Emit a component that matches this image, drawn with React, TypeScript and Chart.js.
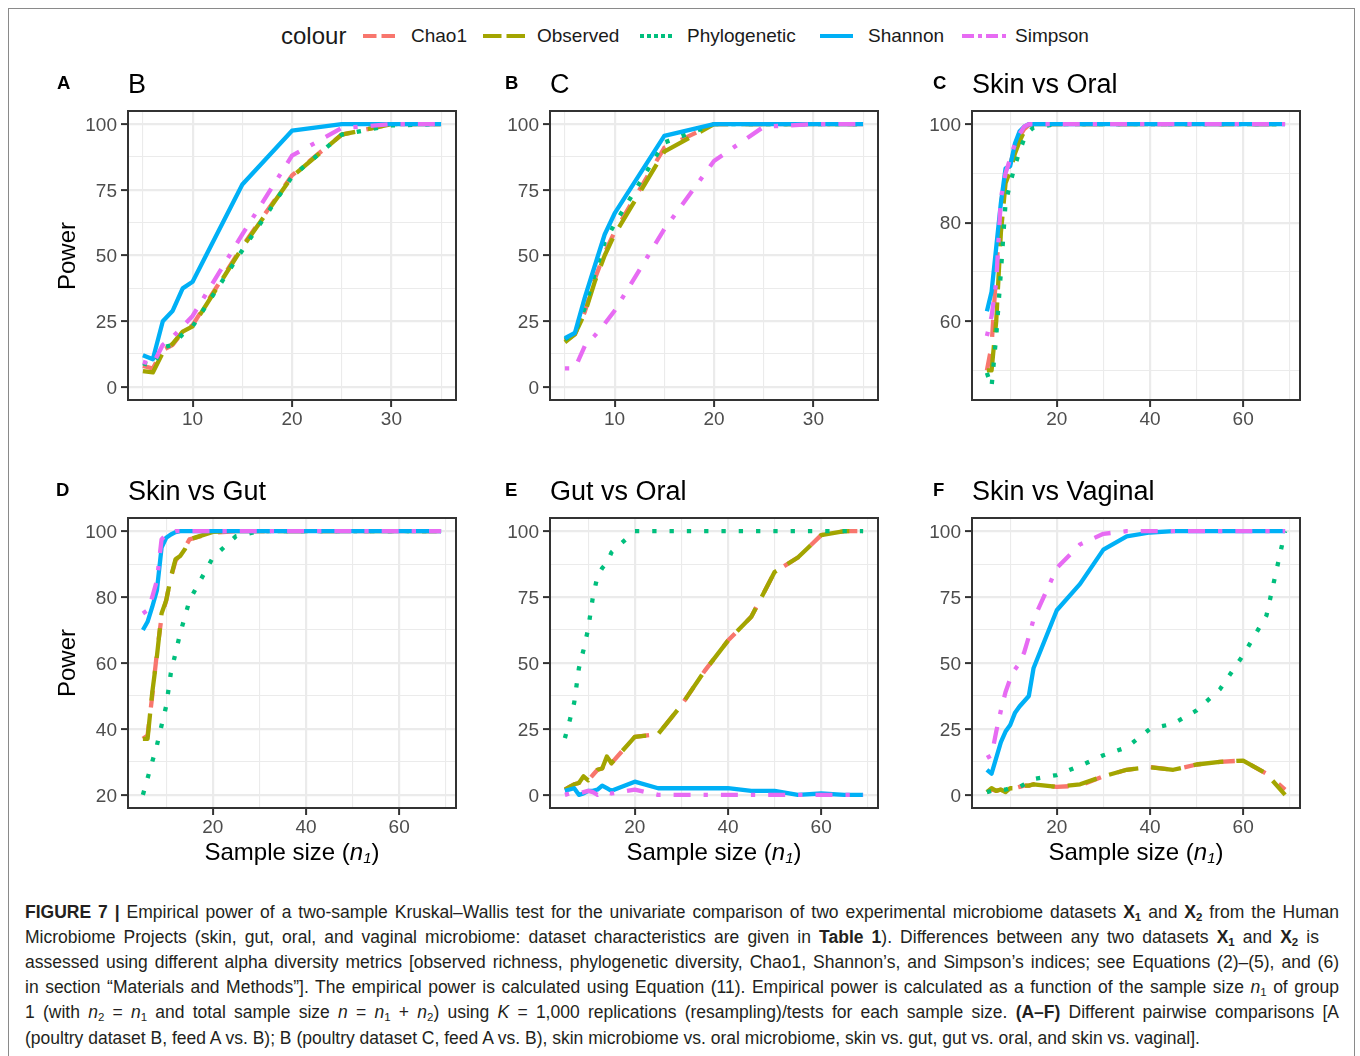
import React, { useEffect, useRef } from "react";
import { Chart, registerables } from "chart.js";

Chart.register(...registerables);

const FONT = "'Liberation Sans', Arial, Helvetica, sans-serif";

// ---------- series definitions ----------
const SERIES_NAMES = ["Chao1", "Observed", "Phylogenetic", "Shannon", "Simpson"];
const SERIES_COLORS = ["#F8766D", "#A3A500", "#00BF7D", "#00B0F6", "#E76BF3"];
const SERIES_DASHES = [[17, 17], [30, 13], [4.3, 13], [], [4.3, 13, 17, 13]];
const LEGEND_DASHES = ["13.5 5", "18.5 5", "4 3", "", "12 4 4 4"];

// ---------- x grids (sample size n1) ----------
const X_AB = [5, 6, 7, 8, 9, 10, 15, 20, 25, 30, 35];
const X_CF = [5, 6, 7, 8, 9, 10, 11, 12, 13, 14, 15, 20, 25, 30, 35, 40, 45, 50, 55, 60, 65, 69];

// ---------- Panel A : B ----------
const A_CHAO1 = [8, 7, 14, 16, 21, 23.5, 53.5, 80.5, 96, 100, 100];
const A_OBSERVED = [6, 5.5, 13, 16.5, 21, 23, 53, 80, 96, 100, 100];
const A_PHYLO = [9, 8, 15, 16, 20, 23, 52, 80, 96, 99.5, 100];
const A_SHANNON = [12, 10.5, 25, 29, 37.5, 40, 77, 97.5, 100, 100, 100];
const A_SIMPSON = [9.5, 8.5, 16, 19, 23, 27, 58, 88, 98.5, 100, 100];

// ---------- Panel B : C ----------
const B_CHAO1 = [17.5, 20, 28.5, 41, 51, 59, 91, 100, 100, 100, 100];
const B_OBSERVED = [17, 20, 28, 40, 50, 58, 89.5, 100, 100, 100, 100];
const B_PHYLO = [18, 20.5, 30, 43, 55, 62, 93, 100, 100, 100, 100];
const B_SHANNON = [18.5, 20.5, 34, 46, 58, 66, 95.5, 100, 100, 100, 100];
const B_SIMPSON = [7, 7, 15.5, 19.5, 24, 29, 60, 86, 99, 100, 100];

// ---------- Panel C : Skin vs Oral ----------
const C_CHAO1 = [50, 55, 70, 84, 89, 92, 95, 97.5, 99, 99.8, 100, 100, 100, 100, 100, 100, 100, 100, 100, 100, 100, 100];
const C_OBSERVED = [50, 50, 60, 78, 88, 90.5, 94, 96.5, 98.5, 99.5, 100, 100, 100, 100, 100, 100, 100, 100, 100, 100, 100, 100];
const C_PHYLO = [49.5, 46.7, 57, 70, 84, 88, 91.5, 94.5, 97, 98.5, 99.3, 100, 100, 100, 100, 100, 100, 100, 100, 100, 100, 100];
const C_SHANNON = [62, 66, 75, 84, 91, 91.5, 96, 98.5, 99.5, 100, 100, 100, 100, 100, 100, 100, 100, 100, 100, 100, 100, 100];
const C_SIMPSON = [57, 61, 68, 85, 90, 93, 96, 98, 99.5, 100, 100, 100, 100, 100, 100, 100, 100, 100, 100, 100, 100, 100];

// ---------- Panel D : Skin vs Gut ----------
const D_CHAO1 = [37, 38, 50, 63, 74, 79, 86, 91, 93, 95, 97.5, 99.5, 100, 100, 100, 100, 100, 100, 100, 100, 100, 100];
const D_OBSERVED = [37, 37, 51, 62, 75, 79, 86, 91.5, 92.5, 94.5, 97.5, 99.8, 100, 100, 100, 100, 100, 100, 100, 100, 100, 100];
const D_PHYLO = [20, 25, 30, 35, 41, 47, 57, 63, 69, 74, 79, 92, 98.5, 100, 100, 100, 100, 100, 100, 100, 100, 100];
const D_SHANNON = [70, 72.5, 77, 82, 95, 98, 99, 99.7, 100, 100, 100, 100, 100, 100, 100, 100, 100, 100, 100, 100, 100, 100];
const D_SIMPSON = [75, 76, 80, 85, 97.5, 99, 99.5, 100, 100, 100, 100, 100, 100, 100, 100, 100, 100, 100, 100, 100, 100, 100];

// ---------- Panel E : Gut vs Oral ----------
const E_CHAO1 = [2, 3, 4, 4.5, 7, 5.5, 7.5, 9.5, 10, 14.5, 12, 22, 23, 34, 47, 58.5, 67.5, 84.5, 90, 98.5, 100, 100];
const E_OBSERVED = [2, 3, 4, 4.5, 7, 5.5, 7.5, 9.5, 10, 14.5, 12, 22, 23, 34, 47, 58.5, 67.5, 84.5, 90, 98.5, 100, 100];
const E_PHYLO = [21.5, 28, 35, 48, 55, 63, 75, 83, 86, 88, 92, 100, 100, 100, 100, 100, 100, 100, 100, 100, 100, 100];
const E_SHANNON = [1.5, 2, 2.5, 0, 0.5, 1.5, 1.5, 2, 3.5, 2.5, 1.5, 5, 2.5, 2.5, 2.5, 2.5, 1.5, 1.5, 0, 0.5, 0, 0];
const E_SIMPSON = [0, 0.5, 0.5, 0.5, 1, 1.5, 1, 0, 1, 1, 0.5, 2, 0, 0, 0, 0, 0, 0, 0, 0, 0, 0];

// ---------- Panel F : Skin vs Vaginal ----------
const F_CHAO1 = [1, 2, 1.5, 2, 1, 2, 2.5, 3, 3.5, 3.5, 4, 3, 3.5, 7, 9.5, 10.5, 9.5, 11.5, 12.5, 13, 8, 2];
const F_OBSERVED = [1, 2.5, 1.5, 2, 1, 2.5, 2.5, 3, 3.5, 3.5, 4, 3, 4, 7, 9.5, 10.5, 9.5, 11.5, 12.5, 13, 8, 0];
const F_PHYLO = [1, 1.5, 2, 2, 2, 2.5, 2.5, 3, 4, 5, 6, 7.5, 11, 15, 18, 25, 27, 32, 40, 53, 68, 100];
const F_SHANNON = [9.5, 8, 14, 20, 24, 26.5, 31, 33.5, 35.5, 37.5, 48, 70, 80, 93, 98, 99.5, 100, 100, 100, 100, 100, 100];
const F_SIMPSON = [14, 15, 24, 32, 39, 44, 47.5, 50, 54, 60, 66.5, 86, 95, 99, 100, 100, 100, 100, 100, 100, 100, 100];

// ---------- tick labels ----------
const X_MAJOR_AB = [10, 20, 30];
const X_MINOR_AB = [5, 15, 25, 35];
const X_MAJOR_CF = [20, 40, 60];
const X_MINOR_CF = [10, 30, 50, 70];
const Y_MAJOR_PCT = [0, 25, 50, 75, 100];
const Y_MINOR_PCT = [12.5, 37.5, 62.5, 87.5];
const Y_MAJOR_C = [60, 80, 100];
const Y_MINOR_C = [50, 70, 90];
const Y_MAJOR_D = [20, 40, 60, 80, 100];
const Y_MINOR_D = [30, 50, 70, 90];

type PanelSpec = {
  tag: string;
  title: string;
  x: number[];
  ys: number[][];
  xRange: [number, number];
  xMajor: number[];
  xMinor: number[];
  yRange: [number, number];
  yMajor: number[];
  yMinor: number[];
  box: [number, number, number, number];
  tagX: number;
  yTitle: boolean;
  xTitle: boolean;
};

const PANELS: PanelSpec[] = [
  { tag: "A", title: "B", x: X_AB, ys: [A_CHAO1, A_OBSERVED, A_PHYLO, A_SHANNON, A_SIMPSON], xRange: [3.5, 36.5], xMajor: X_MAJOR_AB, xMinor: X_MINOR_AB, yRange: [-5, 105], yMajor: Y_MAJOR_PCT, yMinor: Y_MINOR_PCT, box: [128, 111, 456, 400], tagX: 57, yTitle: true, xTitle: false },
  { tag: "B", title: "C", x: X_AB, ys: [B_CHAO1, B_OBSERVED, B_PHYLO, B_SHANNON, B_SIMPSON], xRange: [3.5, 36.5], xMajor: X_MAJOR_AB, xMinor: X_MINOR_AB, yRange: [-5, 105], yMajor: Y_MAJOR_PCT, yMinor: Y_MINOR_PCT, box: [550, 111, 878, 400], tagX: 505, yTitle: false, xTitle: false },
  { tag: "C", title: "Skin vs Oral", x: X_CF, ys: [C_CHAO1, C_OBSERVED, C_PHYLO, C_SHANNON, C_SIMPSON], xRange: [1.8, 72.2], xMajor: X_MAJOR_CF, xMinor: X_MINOR_CF, yRange: [44, 102.67], yMajor: Y_MAJOR_C, yMinor: Y_MINOR_C, box: [972, 111, 1300, 400], tagX: 933, yTitle: false, xTitle: false },
  { tag: "D", title: "Skin vs Gut", x: X_CF, ys: [D_CHAO1, D_OBSERVED, D_PHYLO, D_SHANNON, D_SIMPSON], xRange: [1.8, 72.2], xMajor: X_MAJOR_CF, xMinor: X_MINOR_CF, yRange: [16, 104], yMajor: Y_MAJOR_D, yMinor: Y_MINOR_D, box: [128, 518, 456, 808], tagX: 56, yTitle: true, xTitle: true },
  { tag: "E", title: "Gut vs Oral", x: X_CF, ys: [E_CHAO1, E_OBSERVED, E_PHYLO, E_SHANNON, E_SIMPSON], xRange: [1.8, 72.2], xMajor: X_MAJOR_CF, xMinor: X_MINOR_CF, yRange: [-5, 105], yMajor: Y_MAJOR_PCT, yMinor: Y_MINOR_PCT, box: [550, 518, 878, 808], tagX: 505, yTitle: false, xTitle: true },
  { tag: "F", title: "Skin vs Vaginal", x: X_CF, ys: [F_CHAO1, F_OBSERVED, F_PHYLO, F_SHANNON, F_SIMPSON], xRange: [1.8, 72.2], xMajor: X_MAJOR_CF, xMinor: X_MINOR_CF, yRange: [-5, 105], yMajor: Y_MAJOR_PCT, yMinor: Y_MINOR_PCT, box: [972, 518, 1300, 808], tagX: 933, yTitle: false, xTitle: true },
];

const AXW = 70;
const AXH = 45;
const PADT = 20;
const PADR = 12;

const boxPlugin = {
  id: "panelBox",
  afterDatasetsDraw(chart: any) {
    const { ctx, chartArea } = chart;
    ctx.save();
    ctx.strokeStyle = "#333333";
    ctx.lineWidth = 2;
    ctx.strokeRect(chartArea.left, chartArea.top, chartArea.right - chartArea.left, chartArea.bottom - chartArea.top);
    ctx.restore();
  },
};

const isIn = (arr: number[], v: number) => arr.some((m) => Math.abs(m - v) < 1e-9);

function makeScale(min: number, max: number, major: number[], minor: number[], isX: boolean) {
  return {
    type: "linear",
    min,
    max,
    afterBuildTicks: (s: any) => {
      s.ticks = [...major, ...minor].sort((a, b) => a - b).map((v) => ({ value: v }));
    },
    afterFit: (s: any) => {
      if (isX) s.height = AXH;
      else s.width = AXW;
    },
    ticks: {
      autoSkip: false,
      maxRotation: 0,
      minRotation: 0,
      color: "#4D4D4D",
      font: { family: FONT, size: 19 },
      padding: isX ? 1 : 4,
      labelOffset: isX ? 0 : 1.5,
      callback: (v: number) => (isIn(major, v) ? String(v) : ""),
    },
    grid: {
      color: "#EBEBEB",
      lineWidth: (c: any) => (c.tick && isIn(major, c.tick.value) ? 2.2 : 1.1),
      tickLength: 7,
      tickWidth: 2,
      tickColor: (c: any) => (c.tick && isIn(major, c.tick.value) ? "#333333" : "rgba(0,0,0,0)"),
      drawOnChartArea: true,
      drawTicks: true,
    },
    border: { display: false },
  };
}

function PanelChart({ p }: { p: PanelSpec }) {
  const ref = useRef<HTMLCanvasElement | null>(null);
  const [l, t, r, b] = p.box;
  const w = AXW + (r - l) + PADR;
  const h = PADT + (b - t) + AXH;

  useEffect(() => {
    if (!ref.current) return;
    const datasets = SERIES_NAMES.map((name, i) => ({
      label: name,
      data: p.x.map((xv, j) => ({ x: xv, y: p.ys[i][j] })),
      borderColor: SERIES_COLORS[i],
      backgroundColor: SERIES_COLORS[i],
      borderWidth: 4.3,
      borderDash: SERIES_DASHES[i],
      borderCapStyle: "butt",
      borderJoinStyle: "round",
      pointRadius: 0,
      pointHoverRadius: 0,
      tension: 0,
      fill: false,
      order: SERIES_NAMES.length - i,
    }));
    const chart = new Chart(ref.current, {
      type: "line",
      data: { datasets } as any,
      options: {
        responsive: false,
        maintainAspectRatio: false,
        animation: false,
        devicePixelRatio: 1,
        layout: { padding: { left: 0, right: PADR, top: PADT, bottom: 0 } },
        plugins: { legend: { display: false }, tooltip: { enabled: false }, title: { display: false } },
        scales: {
          x: makeScale(p.xRange[0], p.xRange[1], p.xMajor, p.xMinor, true),
          y: makeScale(p.yRange[0], p.yRange[1], p.yMajor, p.yMinor, false),
        } as any,
      },
      plugins: [boxPlugin],
    } as any);
    return () => chart.destroy();
  }, []);

  const cx = (l + r) / 2;
  const cy = (t + b) / 2;
  return (
    <>
      <canvas
        ref={ref}
        width={w}
        height={h}
        style={{ position: "absolute", left: l - AXW, top: t - PADT, width: w, height: h }}
      />
      <div style={{ position: "absolute", left: p.tagX, top: t - 37, fontSize: 18.5, lineHeight: "18px", fontWeight: 700, color: "#000" }}>
        {p.tag}
      </div>
      <div style={{ position: "absolute", left: l, top: t - 40, fontSize: 27, lineHeight: "27px", color: "#000", whiteSpace: "nowrap" }}>
        {p.title}
      </div>
      {p.yTitle && (
        <div
          style={{
            position: "absolute",
            left: 66.5 - 60,
            top: cy - 15,
            width: 120,
            height: 30,
            lineHeight: "30px",
            textAlign: "center",
            fontSize: 24,
            color: "#000",
            transform: "rotate(-90deg)",
          }}
        >
          Power
        </div>
      )}
      {p.xTitle && (
        <div
          style={{
            position: "absolute",
            left: cx - 150,
            top: 852 - 15,
            width: 300,
            height: 30,
            lineHeight: "30px",
            textAlign: "center",
            fontSize: 24,
            color: "#000",
            whiteSpace: "nowrap",
          }}
        >
          Sample size (<i>n</i>
          <sub style={{ fontSize: 15, verticalAlign: "-3px", fontStyle: "italic" }}>1</sub>)
        </div>
      )}
    </>
  );
}

// legend key boxes: [left, width], and label lefts
const LEGEND_KEYS = [
  [363, 32],
  [483, 42],
  [640, 34],
  [820, 33],
  [962, 44],
];
const LEGEND_TEXT_LEFT = [411, 537, 687, 868, 1015];

function Legend() {
  return (
    <>
      <div style={{ position: "absolute", left: 281, top: 36 - 15, height: 30, lineHeight: "30px", fontSize: 24, color: "#1a1a1a" }}>colour</div>
      {SERIES_NAMES.map((name, i) => (
        <React.Fragment key={name}>
          <svg style={{ position: "absolute", left: LEGEND_KEYS[i][0], top: 36 - 10 }} width={LEGEND_KEYS[i][1]} height={20}>
            <line x1={0} y1={10} x2={LEGEND_KEYS[i][1]} y2={10} stroke={SERIES_COLORS[i]} strokeWidth={4} strokeDasharray={LEGEND_DASHES[i] || undefined} />
          </svg>
          <div style={{ position: "absolute", left: LEGEND_TEXT_LEFT[i], top: 36 - 12, height: 24, lineHeight: "24px", fontSize: 19, color: "#1a1a1a", whiteSpace: "nowrap" }}>
            {name}
          </div>
        </React.Fragment>
      ))}
    </>
  );
}

const Xb = ({ n }: { n: number }) => (
  <b>
    X<sub style={{ fontSize: 11.5, verticalAlign: "-3px" }}>{n}</sub>
  </b>
);
const Ni = ({ n }: { n?: number }) => (
  <>
    <i>n</i>
    {n !== undefined && <sub style={{ fontSize: 11.5, verticalAlign: "-3px" }}>{n}</sub>}
  </>
);

function Caption() {
  const lines: React.ReactNode[] = [
    <>
      <b>FIGURE 7 |</b> Empirical power of a two-sample Kruskal–Wallis test for the univariate comparison of two experimental microbiome datasets <Xb n={1} /> and <Xb n={2} /> from the Human
    </>,
    <>
      Microbiome Projects (skin, gut, oral, and vaginal microbiome: dataset characteristics are given in <b>Table 1</b>). Differences between any two datasets <Xb n={1} /> and <Xb n={2} /> is
    </>,
    <>assessed using different alpha diversity metrics [observed richness, phylogenetic diversity, Chao1, Shannon’s, and Simpson’s indices; see Equations (2)–(5), and (6)</>,
    <>
      in section “Materials and Methods”]. The empirical power is calculated using Equation (11). Empirical power is calculated as a function of the sample size <Ni n={1} /> of group
    </>,
    <>
      1 (with <Ni n={2} /> = <Ni n={1} /> and total sample size <Ni /> = <Ni n={1} /> + <Ni n={2} />) using <i>K</i> = 1,000 replications (resampling)/tests for each sample size. <b>(A–F)</b> Different pairwise comparisons [A
    </>,
    <>(poultry dataset B, feed A vs. B); B (poultry dataset C, feed A vs. B), skin microbiome vs. oral microbiome, skin vs. gut, gut vs. oral, and skin vs. vaginal].</>,
  ];
  const widths = [1314, 1294, 1314, 1314, 1314, 1314];
  return (
    <>
      {lines.map((ln, i) => (
        <div
          key={i}
          style={{
            position: "absolute",
            left: 25,
            top: 899.5 + i * 25.2,
            width: widths[i],
            height: 25,
            lineHeight: "25px",
            fontSize: 17.5,
            color: "#231F20",
            whiteSpace: "nowrap",
            textAlign: "justify",
            textAlignLast: i === lines.length - 1 ? "left" : "justify",
          } as any}
        >
          {ln}
        </div>
      ))}
    </>
  );
}

export default function App() {
  return (
    <div style={{ position: "absolute", left: 0, top: 0, width: 1360, height: 1056, overflow: "hidden", background: "#ffffff", fontFamily: FONT }}>
      <div style={{ position: "absolute", left: 8, top: 8, width: 1347, height: 1100, border: "1px solid #8a8a8a", boxSizing: "border-box" }} />
      <Legend />
      {PANELS.map((p) => (
        <PanelChart key={p.tag} p={p} />
      ))}
      <Caption />
    </div>
  );
}
